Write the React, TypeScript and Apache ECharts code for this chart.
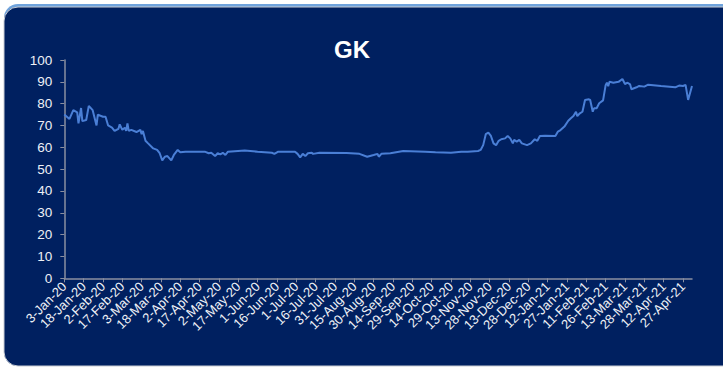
import React, { useEffect, useRef } from "react";
import * as echarts from "echarts";

const TITLE = "GK";
const START_DATE = [2020, 0, 3];
const DAY_COUNT = 488;
const MONTHS = ["Jan","Feb","Mar","Apr","May","Jun","Jul","Aug","Sep","Oct","Nov","Dec"];

const pointDates = [
  "3-Jan-20","7-Jan-20","10-Jan-20","13-Jan-20","14-Jan-20","16-Jan-20","17-Jan-20","20-Jan-20","22-Jan-20","25-Jan-20",
  "28-Jan-20","29-Jan-20","2-Feb-20","4-Feb-20","6-Feb-20","9-Feb-20","11-Feb-20","14-Feb-20","15-Feb-20","17-Feb-20",
  "19-Feb-20","20-Feb-20","21-Feb-20","22-Feb-20","24-Feb-20","28-Feb-20","2-Mar-20","3-Mar-20","4-Mar-20","6-Mar-20",
  "8-Mar-20","12-Mar-20","15-Mar-20","17-Mar-20","19-Mar-20","21-Mar-20","23-Mar-20","26-Mar-20","28-Mar-20","31-Mar-20",
  "2-Apr-20","6-Apr-20","21-Apr-20","24-Apr-20","26-Apr-20","29-Apr-20","1-May-20","3-May-20","5-May-20","7-May-20",
  "9-May-20","22-May-20","1-Jun-20","12-Jun-20","14-Jun-20","17-Jun-20","22-Jun-20","30-Jun-20","2-Jul-20","4-Jul-20",
  "6-Jul-20","8-Jul-20","10-Jul-20","13-Jul-20","14-Jul-20","19-Jul-20","9-Aug-20","19-Aug-20","25-Aug-20","30-Aug-20",
  "2-Sep-20","3-Sep-20","5-Sep-20","12-Sep-20","22-Sep-20","9-Oct-20","17-Oct-20","29-Oct-20","6-Nov-20","11-Nov-20",
  "19-Nov-20","21-Nov-20","23-Nov-20","25-Nov-20","27-Nov-20","29-Nov-20","1-Dec-20","3-Dec-20","5-Dec-20","7-Dec-20",
  "10-Dec-20","12-Dec-20","14-Dec-20","16-Dec-20","17-Dec-20","19-Dec-20","21-Dec-20","23-Dec-20","27-Dec-20","30-Dec-20",
  "2-Jan-21","4-Jan-21","6-Jan-21","10-Jan-21","18-Jan-21","20-Jan-21","22-Jan-21","25-Jan-21","28-Jan-21","30-Jan-21",
  "1-Feb-21","3-Feb-21","4-Feb-21","6-Feb-21","8-Feb-21","10-Feb-21","13-Feb-21","14-Feb-21","16-Feb-21","17-Feb-21",
  "19-Feb-21","21-Feb-21","24-Feb-21","26-Feb-21","27-Feb-21","28-Feb-21","1-Mar-21","4-Mar-21","8-Mar-21","11-Mar-21",
  "13-Mar-21","15-Mar-21","17-Mar-21","18-Mar-21","22-Mar-21","24-Mar-21","28-Mar-21","31-Mar-21","10-Apr-21","21-Apr-21",
  "24-Apr-21","27-Apr-21","29-Apr-21","1-May-21","4-May-21"
];

const pointValues = [
  75, 73, 77, 76, 71, 78, 72, 72.5, 79, 77,
  70, 75, 74, 74, 70, 69, 67.5, 68.5, 70.5, 68,
  69, 67.5, 71, 67.5, 68, 67, 68, 66, 67.5, 63,
  61.8, 59.5, 58.8, 57.3, 54, 55.7, 56, 54, 56.5, 58.8,
  57.7, 58, 58, 57.3, 57.5, 56, 57.3, 56.8, 57.5, 56.5,
  58, 58.5, 58, 57.5, 57, 58, 58, 58, 57, 55.4,
  57, 56, 57.3, 57.5, 57, 57.5, 57.4, 57, 55.7, 56.5,
  57, 55.7, 57, 57.3, 58.3, 58, 57.7, 57.5, 58, 58,
  58.3, 58.8, 61, 66, 66.7, 65.2, 61.8, 61, 63, 63.7,
  64.1, 65.2, 64.1, 61.8, 63.4, 62.6, 63.4, 61.8, 61, 61.8,
  63.7, 63, 65.2, 65.3, 65.2, 67.2, 67.9, 69.5, 72.2, 73.3,
  74.3, 76.3, 74.3, 75.6, 76.3, 81.7, 82, 81.7, 76.3, 77.9,
  77.9, 80.2, 81.5, 88.5, 89.6, 88, 90, 89.6, 90, 91.3,
  89, 89.6, 88.8, 86.6, 87.5, 88.1, 87.8, 88.7, 88.1, 87.5,
  88.3, 88.1, 88.6, 81.7, 88.1
];

const yTicks = [0, 10, 20, 30, 40, 50, 60, 70, 80, 90, 100];

function buildCategories(): string[] {
  const out: string[] = [];
  const base = Date.UTC(START_DATE[0], START_DATE[1], START_DATE[2]);
  for (let i = 0; i < DAY_COUNT; i++) {
    const d = new Date(base + i * 86400000);
    const yy = String(d.getUTCFullYear()).slice(2);
    out.push(`${d.getUTCDate()}-${MONTHS[d.getUTCMonth()]}-${yy}`);
  }
  return out;
}

export default function App() {
  const ref = useRef<HTMLDivElement>(null);
  useEffect(() => {
    document.body.style.margin = "0";
    const chart = echarts.init(ref.current!, null, { renderer: "svg" });
    const categories = buildCategories();
    const data = pointDates.map((d, i) => [d, pointValues[i]]);
    const font = "'Liberation Sans', Arial, sans-serif";
    chart.setOption({
      animation: false,
      backgroundColor: "#ffffff",
      graphic: [
        { type: "rect", z: -10, shape: { x: 4, y: 4, width: 760, height: 362, r: 14 }, style: { fill: "#6fa3dc" } },
        { type: "rect", z: -9, shape: { x: 4, y: 7, width: 760, height: 359, r: 14 }, style: { fill: "#002060", stroke: "#c8ccd4", lineWidth: 1 } },
        { type: "text", left: 334, top: 37, style: { text: TITLE, fill: "#ffffff", font: `bold 24px ${font}` } }
      ],
      grid: { left: 64.3, right: 31, top: 60, bottom: 88.7, containLabel: false },
      xAxis: {
        type: "category",
        data: categories,
        boundaryGap: false,
        axisLine: { lineStyle: { color: "#8a8fa0", width: 1.5 } },
        axisTick: { interval: 14, length: 4, lineStyle: { color: "#8a8fa0" } },
        axisLabel: { interval: 14, rotate: 45, color: "#eef0f6", fontSize: 13, fontFamily: font, margin: 6 },
        splitLine: { show: false }
      },
      yAxis: {
        type: "value",
        min: yTicks[0],
        max: yTicks[yTicks.length - 1],
        interval: 10,
        axisLine: { show: true, lineStyle: { color: "#8a8fa0", width: 1.5 } },
        axisTick: { show: true, length: 4, lineStyle: { color: "#8a8fa0" } },
        axisLabel: { color: "#eef0f6", fontSize: 13.5, fontFamily: font, margin: 12 },
        splitLine: { show: false }
      },
      series: [
        {
          type: "line",
          data,
          showSymbol: false,
          connectNulls: true,
          lineStyle: { color: "#4a7fd6", width: 2 },
          itemStyle: { color: "#4a7fd6" }
        }
      ]
    });
    return () => chart.dispose();
  }, []);
  return <div ref={ref} style={{ width: 723, height: 367 }} />;
}
